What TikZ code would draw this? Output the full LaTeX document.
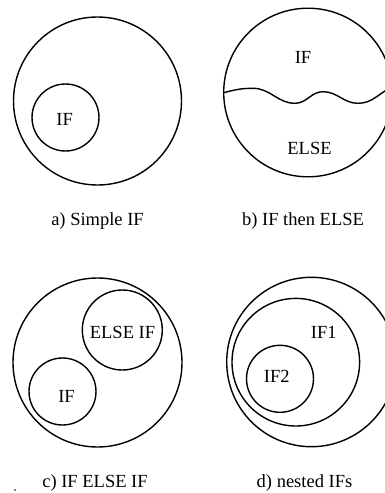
\documentclass[tikz,border=0pt]{standalone}
\usepackage{fontspec}
\setmainfont{Liberation Serif}
\usetikzlibrary{positioning}

\begin{document}
\begin{tikzpicture}[
    x=0.5pt, y=-0.5pt,
    font=\fontsize{9.25}{11}\selectfont,
    ring/.style={draw, circle, inner sep=0pt, line width=0.7pt},
    word/.style={inner sep=0pt},
    caption/.style={anchor=base, inner sep=0pt},
    wave/.style={line width=0.7pt}
]
\useasboundingbox (0,0) rectangle (385,493);
\clip (0,0) rectangle (385,493);

% a) simple if
\node[ring, minimum size=84pt] (outerA) at (97.5,101) {};
\node[ring, minimum size=33.5pt] (ifA) at (65.5,117.5) {};
\node[word] (ifAtext) at (64.7,119.3) {IF};
\node[caption] (capA) at (97.5,225.6) {a) Simple IF};

% b) if then else
\node[ring, minimum size=84.3pt] (outerB) at (308,92.5) {};
\coordinate (waveL) at (223.7,92.7);
\coordinate (waveR) at (392,87);
\draw[wave] (waveL) to[out=15,in=180] (253,88.3) to[out=0,in=180] (295,103.3)
    to[out=0,in=180] (323,91.7) to[out=0,in=180] (358,103.3) to[out=0,in=205] (waveR);
\node[word] (ifBtext) at (303,57.5) {IF};
\node[word] (elseBtext) at (309.5,148) {ELSE};
\node[caption] (capB) at (303,225.6) {b) IF then ELSE};

% c) if else if
\node[ring, minimum size=84.5pt] (outerC) at (97.5,362.5) {};
\node[ring, minimum size=40pt] (elifC) at (122.3,330) {};
\node[ring, minimum size=33.5pt] (ifC) at (62.5,391.5) {};
\node[word] (elifCtext) at (122.5,332) {ELSE IF};
\node[word] (ifCtext) at (66.5,396) {IF};
\node[caption] (capC) at (95,487) {c) IF ELSE IF};
\fill (15,490) circle (0.8);

% d) nested ifs
\node[ring, minimum size=84.7pt] (outerD) at (311.4,362) {};
\node[ring, minimum size=63.8pt] (ifOneD) at (295.8,362.2) {};
\node[ring, minimum size=33.5pt] (ifTwoD) at (280,378.8) {};
\node[word] (ifOneDtext) at (323.7,332.8) {IF1};
\node[word] (ifTwoDtext) at (276.7,376.3) {IF2};
\node[caption] (capD) at (304.5,487.3) {d) nested IFs};

\end{tikzpicture}
\end{document}
